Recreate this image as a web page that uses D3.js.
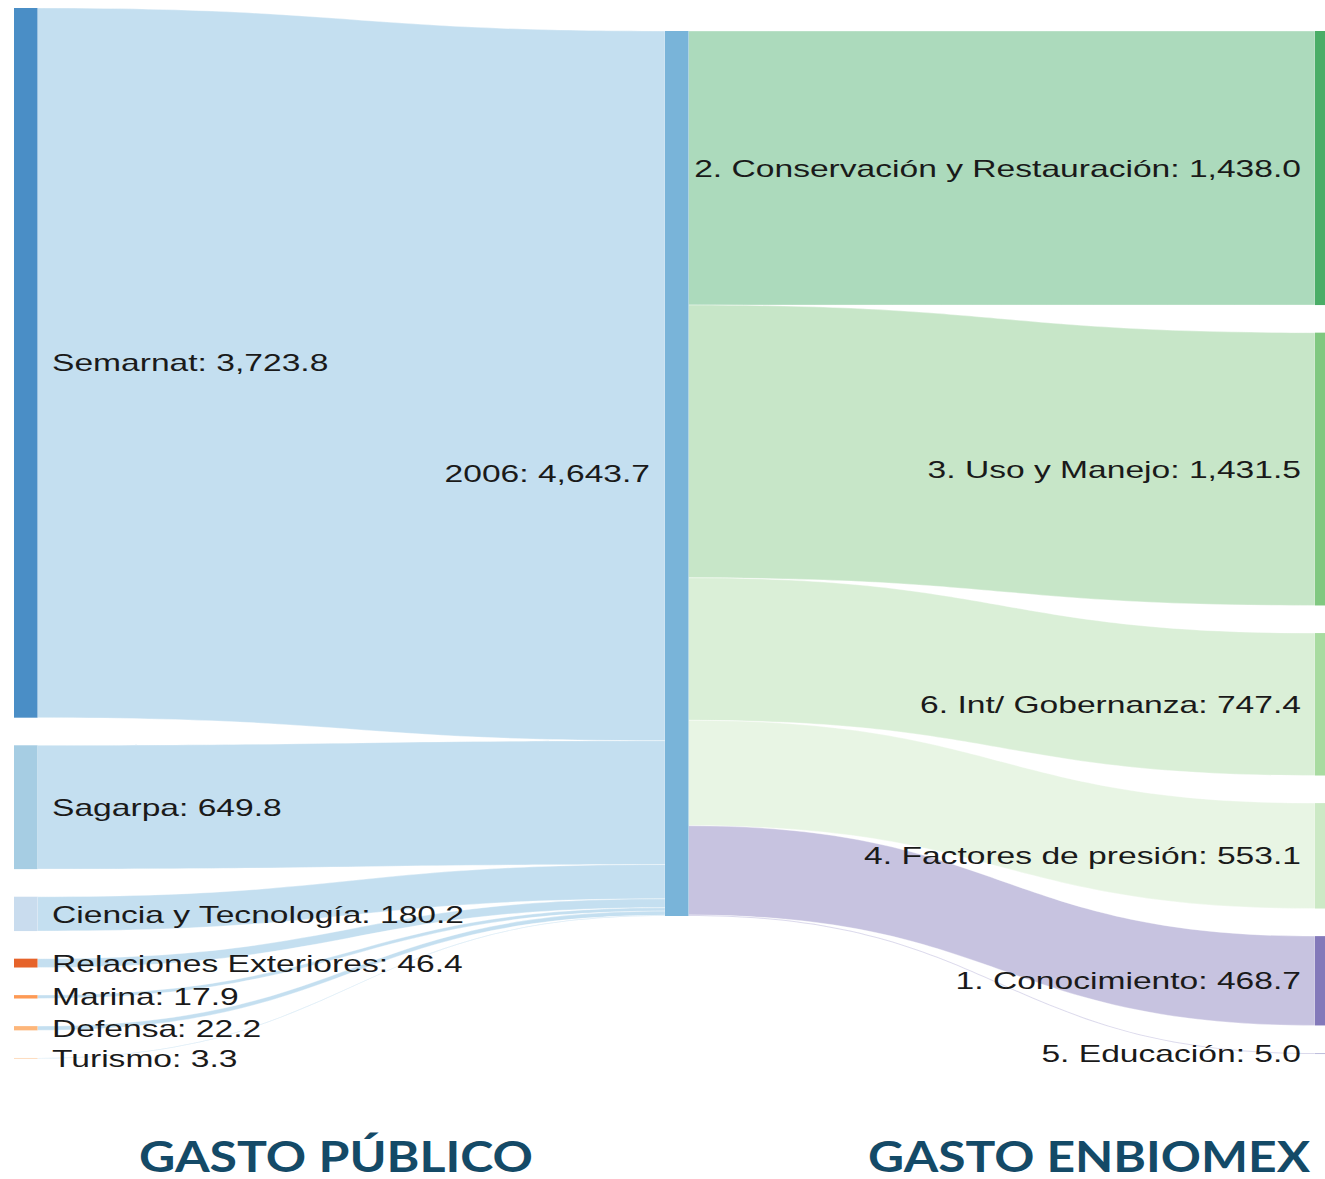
<!DOCTYPE html>
<html>
<head>
<meta charset="utf-8">
<script src="https://cdn.jsdelivr.net/npm/d3@7"></script>
<style>
  html, body { margin: 0; padding: 0; background: #fff; }
  svg { display: block; }
</style>
</head>
<body>
<svg id="viz" width="1325" height="1179"></svg>
<script>
const width = 1325;
const height = 1179;
const svg = d3.select("#viz");

// datos (millones de pesos)
const fuentes = ["Semarnat", "Sagarpa", "Ciencia y Tecnología", "Relaciones Exteriores", "Marina", "Defensa", "Turismo"];
const gastoFuente = [3723.8, 649.8, 180.2, 46.4, 17.9, 22.2, 3.3];
const colorFuente = ["#4a8ec6", "#a6cde3", "#c9dcee", "#e6632a", "#fd9a55", "#fdb67a", "#fddcbf"];

const anio = "2006";
const gastoAnio = 4643.7;
const colorAnio = "#79b4d9";
const colorLinkAnio = "#c4dff0";

const ejes = ["2. Conservación y Restauración", "3. Uso y Manejo", "6. Int/ Gobernanza", "4. Factores de presión", "1. Conocimiento", "5. Educación"];
const gastoEje = [1438.0, 1431.5, 747.4, 553.1, 468.7, 5.0];
const colorEje = ["#4aad67", "#80c880", "#a8dba0", "#cce9c5", "#8379ba", "#bdbddc"];
const colorLinkEje = ["#acdabc", "#c7e6c8", "#daefd7", "#e8f5e4", "#c7c3e0", "#c9c6e2"];

const titulos = ["GASTO PÚBLICO", "GASTO ENBIOMEX"];

// layout
const nodeW = 23.5;
const pad = 27.6;
const colX = [14, 665, 1315];
const colTop = [8, 31, 31];
const stretch = 1.40; // el texto original está estirado horizontalmente
const fmt = d3.format(",.1f");

const h = d3.scaleLinear().domain([0, gastoAnio]).range([0, 885]);

function stack(values, top) {
    let y = top;
    return values.map(v => {
        const n = { y0: y, y1: y + h(v), v };
        y = n.y1 + pad;
        return n;
    });
}

const nodosIzq = stack(gastoFuente, colTop[0]);
const nodoMid = { y0: colTop[1], y1: colTop[1] + h(gastoAnio) };
const nodosDer = stack(gastoEje, colTop[2]);

// links izquierda -> 2006
const links = [];
let yIn = nodoMid.y0;
nodosIzq.forEach((n, i) => {
    links.push({
        sx: colX[0] + nodeW, tx: colX[1],
        s0: n.y0, s1: n.y1, t0: yIn, t1: yIn + h(gastoFuente[i]),
        color: colorLinkAnio
    });
    yIn += h(gastoFuente[i]);
});
// links 2006 -> ejes
let yOut = nodoMid.y0;
nodosDer.forEach((n, i) => {
    links.push({
        sx: colX[1] + nodeW, tx: colX[2],
        s0: yOut, s1: yOut + h(gastoEje[i]), t0: n.y0, t1: n.y1,
        color: colorLinkEje[i]
    });
    yOut += h(gastoEje[i]);
});

function bandPath(d) {
    const mx = (d.sx + d.tx) / 2;
    const p = d3.path();
    p.moveTo(d.sx, d.s0);
    p.bezierCurveTo(mx, d.s0, mx, d.t0, d.tx, d.t0);
    p.lineTo(d.tx, d.t1);
    p.bezierCurveTo(mx, d.t1, mx, d.s1, d.sx, d.s1);
    p.closePath();
    return p.toString();
}

svg.append("g").selectAll("path")
    .data(links)
    .enter().append("path")
    .attr("d", bandPath)
    .attr("fill", d => d.color)
    .attr("stroke", "#fff")
    .attr("stroke-opacity", 0.6)
    .attr("stroke-width", 0.6);

// nodos
const nodos = [];
nodosIzq.forEach((n, i) => nodos.push({ x: colX[0], y0: n.y0, y1: n.y1, color: colorFuente[i] }));
nodos.push({ x: colX[1], y0: nodoMid.y0, y1: nodoMid.y1, color: colorAnio });
nodosDer.forEach((n, i) => nodos.push({ x: colX[2], y0: n.y0, y1: n.y1, color: colorEje[i] }));

svg.append("g").selectAll("rect")
    .data(nodos)
    .enter().append("rect")
    .attr("x", d => d.x)
    .attr("y", d => d.y0)
    .attr("width", nodeW)
    .attr("height", d => Math.max(1, d.y1 - d.y0))
    .attr("fill", d => d.color);

// etiquetas
const etiquetas = [];
nodosIzq.forEach((n, i) => etiquetas.push({
    x: colX[0] + nodeW + 14.5, y: (n.y0 + n.y1) / 2, anchor: "start",
    text: `${fuentes[i]}: ${fmt(gastoFuente[i])}`
}));
etiquetas.push({
    x: colX[1] - 15, y: (nodoMid.y0 + nodoMid.y1) / 2, anchor: "end",
    text: `${anio}: ${fmt(gastoAnio)}`
});
nodosDer.forEach((n, i) => etiquetas.push({
    x: colX[2] - 14, y: (n.y0 + n.y1) / 2, anchor: "end",
    text: `${ejes[i]}: ${fmt(gastoEje[i])}`
}));

svg.append("g").selectAll("text")
    .data(etiquetas)
    .enter().append("text")
    .attr("transform", d => `translate(${d.x},${d.y}) scale(${stretch},1)`)
    .attr("dy", "0.36em")
    .attr("text-anchor", d => d.anchor)
    .attr("font-family", "'Liberation Sans', Arial, sans-serif")
    .attr("font-size", 24)
    .attr("fill", "#1a1a1a")
    .text(d => d.text);

// títulos inferiores
svg.append("g").selectAll("text")
    .data([{ x: 139, w: 394, t: titulos[0] }, { x: 868, w: 442, t: titulos[1] }])
    .enter().append("text")
    .attr("x", d => d.x)
    .attr("y", 1172)
    .attr("textLength", d => d.w)
    .attr("lengthAdjust", "spacingAndGlyphs")
    .attr("font-family", "Lato, 'Open Sans', sans-serif")
    .attr("font-weight", 700)
    .attr("font-size", 42)
    .attr("fill", "#144a67")
    .text(d => d.t);
</script>
</body>
</html>
